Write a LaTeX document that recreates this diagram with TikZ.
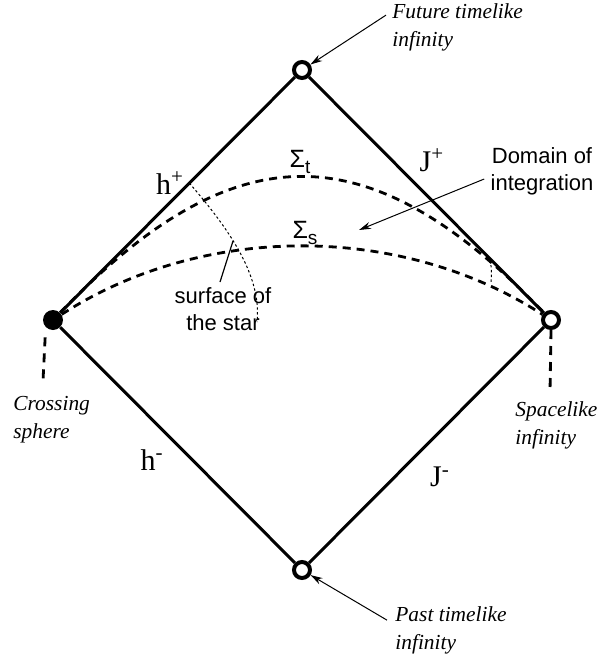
\documentclass[tikz,border=0pt]{standalone}
\usepackage{fontspec}
\setsansfont{Liberation Sans}
\newfontfamily\labelfont{Liberation Serif}
\usetikzlibrary{arrows.meta,positioning}
\tikzset{
  infty/.style={
    circle, draw=black, fill=white,
    line width=2pt, minimum size=8pt, inner sep=0pt},
  crossing/.style={
    circle, fill=black, minimum size=10pt, inner sep=0pt},
  horizon/.style={line width=1.5pt, draw=black},
  slice/.style={line width=1.4pt, dash pattern=on 4pt off 3pt},
  starline/.style={line width=0.5pt, dash pattern=on 1.2pt off 1.2pt},
  stem/.style={line width=1.4pt, dash pattern=on 4.5pt off 3.5pt},
  note/.style={
    font=\labelfont\itshape\fontsize{10.7}{14}\selectfont,
    align=left, inner sep=0pt, anchor=north west},
  tag/.style={
    font=\sffamily\fontsize{11}{13.5}\selectfont,
    align=center, inner sep=0pt},
  sigma/.style={font=\sffamily\fontsize{12.5}{13}\selectfont, inner sep=0pt},
  bdry/.style={font=\labelfont\fontsize{15}{15}\selectfont, inner sep=0pt},
  myarrow/.style={-{Stealth[length=6pt,width=3.5pt]}, line width=0.5pt},
}
\newcommand{\slicesub}[1]{\raisebox{-3pt}{\fontsize{9.5}{9.5}\selectfont #1}}

\begin{document}
\begin{tikzpicture}[x=0.5pt, y=-0.5pt]
  \useasboundingbox (0,0) rectangle (598,664);
  \node[infty] (top) at (302,70) {};
  \node[infty] (bot) at (302,570) {};
  \node[crossing] (cross) at (53,320) {};
  \node[infty] (space) at (551,320) {};
  \draw[horizon] (top) -- (space) -- (bot) -- (cross) -- (top);

  % the two slices
  \draw[slice] (cross) .. controls (235,131) and (369,131) .. (space);
  \draw[slice] (cross) .. controls (203,223) and (401,223) .. (space);

  % surface of the star
  \path (top) -- coordinate[pos=0.45] (starin) (cross);
  \path (top) -- coordinate[pos=0.73] (starout) (space);
  \coordinate (starend) at (257,322);
  \coordinate (starfoot) at (491,284);
  \draw[starline] (starin) .. controls (228,228) and (262,275) .. (starend);
  \draw[starline] (starout) .. controls (492,262) .. (starfoot);

  \node[bdry] (hplus) at (170,183) {h\textsuperscript{+}};
  \node[bdry] (hminus) at (152,460) {h\textsuperscript{-}};
  \node[bdry] (jplus) at (432,160) {J\textsuperscript{+}};
  \node[bdry] (jminus) at (440,477) {J\textsuperscript{-}};
  \node[sigma] (sigt) at (300,162) {Σ\slicesub{t}};
  \node[sigma] (sigs) at (305,233) {Σ\slicesub{s}};

  \node[tag] (domain) at (542,171) {Domain of\\integration};
  \coordinate (inside) at (359,230);
  \draw[myarrow] ([xshift=-3pt,yshift=-4pt]domain.west) -- (inside);

  \node[tag] (surface) at (223,309) {surface of\\the star};
  \coordinate (leadtop) at (233,241);
  \draw[line width=0.6pt] ([xshift=-1.5pt,yshift=2.5pt]surface.north) -- (leadtop);

  \node[note] (future) at (392,3) {Future timelike\\infinity};
  \draw[myarrow] ([xshift=-3pt,yshift=6pt]future.west) -- (top);
  \node[note] (past) at (395,606) {Past timelike\\infinity};
  \draw[myarrow] ([xshift=-4pt,yshift=5pt]past.west) -- (bot);

  \node[note] (crosslbl) at (13,396) {Crossing\\sphere};
  \coordinate (crossfoot) at (43,381);
  \draw[stem, shorten <=5pt] (cross.south west) -- (crossfoot);
  \node[note] (spacelbl) at (515,401) {Spacelike\\infinity};
  \coordinate (spacefoot) at (550,392);
  \draw[stem] (space.south) -- (spacefoot);
\end{tikzpicture}
\end{document}
